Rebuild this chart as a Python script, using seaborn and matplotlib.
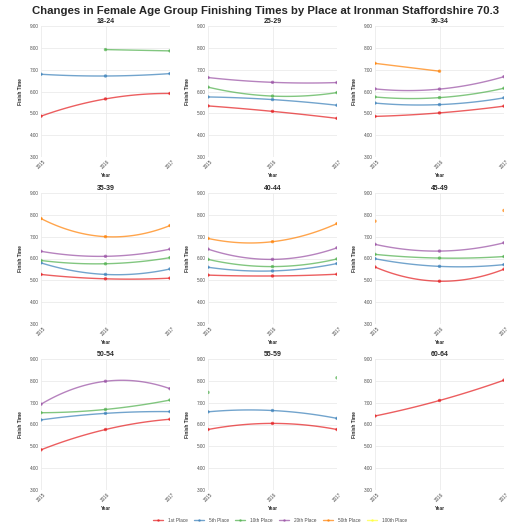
import numpy as np
import pandas as pd
import matplotlib
matplotlib.use("Agg")
import matplotlib.pyplot as plt
from matplotlib.lines import Line2D
import seaborn as sns

# ---------------- data (finish time in decimal hours) ----------------
groups = ["18-24", "25-29", "30-34", "35-39", "40-44", "45-49", "50-54", "55-59", "60-64"]
years = [2015, 2016, 2017]
places = ["1st Place", "5th Place", "10th Place", "20th Place", "50th Place", "100th Place"]
N = None
p1 = [[4.87, 5.66, 5.91], [5.34, 5.09, 4.77], [4.86, 5.02, 5.33], [5.27, 5.07, 5.10],
      [5.24, 5.20, 5.28], [5.61, 4.96, 5.51], [4.84, 5.77, 6.24], [5.77, 6.05, 5.77],
      [6.39, 7.10, 8.03]]
p5 = [[6.79, 6.71, 6.82], [5.75, 5.63, 5.37], [5.47, 5.40, 5.71], [5.80, 5.27, 5.52],
      [5.60, 5.43, 5.77], [5.99, 5.64, 5.72], [6.21, 6.51, 6.59], [6.58, 6.64, 6.28],
      [N, N, N]]
p10 = [[N, 7.92, 7.86], [6.20, 5.79, 5.95], [5.75, 5.72, 6.15], [5.91, 5.76, 6.04],
       [5.96, 5.63, 5.98], [6.19, 6.02, 6.09], [6.54, 6.69, 7.12], [7.47, N, 8.14],
       [N, N, N]]
p20 = [[N, N, N], [6.64, 6.42, 6.41], [6.12, 6.11, 6.68], [6.33, 6.10, 6.43],
       [6.43, 5.96, 6.49], [6.65, 6.34, 6.72], [6.93, 7.98, 7.64], [N, N, N],
       [N, N, N]]
p50 = [[N, N, N], [N, N, N], [7.29, 6.93, N], [7.83, 7.00, 7.51],
       [6.92, 6.77, 7.60], [7.71, N, 8.20], [N, N, N], [N, N, N], [N, N, N]]
p100 = [[N, N, N] for _ in groups]
series = [p1, p5, p10, p20, p50, p100]

y_ticks = [3, 4, 5, 6, 7, 8, 9]
y_tick_labels = ["3:00", "4:00", "5:00", "6:00", "7:00", "8:00", "9:00"]

# ---------------- long-form table ----------------
rows = []
for place, vals in zip(places, series):
    for g, gv in zip(groups, vals):
        for yr, v in zip(years, gv):
            rows.append(dict(Group=g, Place=place, Year=yr, Time=v))
df = pd.DataFrame(rows)

base = ["#E41A1C", "#377EB8", "#4DAF4A", "#984EA3", "#FF7F00", "#FFFF33"]
palette = dict(zip(places, base))
ALPHA = 0.7

sns.set_theme(style="white")
plt.rcParams["font.family"] = ["Liberation Sans", "DejaVu Sans"]

W = H = 530
fig = plt.figure(figsize=(5.3, 5.3), dpi=100)
fig.patch.set_facecolor("white")

col_left = [41, 208, 375]
row_top = [26, 193, 359]
pw, ph = 129, 131

for i, g in enumerate(groups):
    r, c = divmod(i, 3)
    ax = fig.add_axes([col_left[c] / W, 1 - (row_top[r] + ph) / H, pw / W, ph / H])
    ax.set_facecolor("white")
    sub = df[df.Group == g]
    for place in places:
        s = sub[sub.Place == place].sort_values("Year")
        s = s.dropna(subset=["Time"])
        if s.empty:
            continue
        col = palette[place]
        yrs = s.Year.tolist()
        runs, cur = [], [yrs[0]]
        for a, b in zip(yrs[:-1], yrs[1:]):
            if b - a == 1:
                cur.append(b)
            else:
                runs.append(cur)
                cur = [b]
        runs.append(cur)
        for run in runs:
            if len(run) >= 2:
                seg = s[s.Year.isin(run)]
                sns.regplot(data=seg, x="Year", y="Time", order=min(2, len(run) - 1),
                            ci=None, scatter=False, truncate=True, ax=ax,
                            line_kws=dict(color=col, lw=1.0, alpha=ALPHA))
        sns.scatterplot(data=s, x="Year", y="Time", color=col, alpha=ALPHA,
                        s=6, edgecolor="none", ax=ax, zorder=3)
    ax.set_xlim(2015, 2017)
    ax.set_ylim(3, 9)
    ax.set_xticks(years)
    ax.set_xticklabels([str(y) for y in years], rotation=45, ha="center", va="top",
                       fontsize=3.3, color="#4d4d4d")
    ax.set_yticks(y_ticks)
    ax.set_yticklabels(y_tick_labels, fontsize=3.3, color="#4d4d4d")
    ax.tick_params(axis="both", length=0, pad=1.5)
    ax.grid(True, color="#ebebeb", lw=0.6)
    ax.set_axisbelow(True)
    for sp in ax.spines.values():
        sp.set_visible(False)
    ax.set_xlabel("Year", fontsize=3.4, fontweight="bold", labelpad=2)
    ax.set_ylabel("Finish Time", fontsize=3.4, fontweight="bold", labelpad=5)
    ax.set_title(g, fontsize=5, fontweight="bold", pad=2.5)

fig.text(0.5, 1 - 11 / H,
         "Changes in Female Age Group Finishing Times by Place at Ironman Staffordshire 70.3",
         ha="center", va="center", fontsize=8.2, fontweight="bold")

handles = [Line2D([0], [0], color=palette[p], alpha=ALPHA, lw=1.0, marker="o",
                  markersize=1.8, markeredgewidth=0) for p in places]
fig.legend(handles, places, loc="center", bbox_to_anchor=(0.528, 10 / H), ncol=6,
           frameon=False, fontsize=3.4, handlelength=2.1, columnspacing=1.4,
           handletextpad=1.0, labelcolor="#4d4d4d")

fig.savefig("out.png", dpi=100, facecolor="white")
